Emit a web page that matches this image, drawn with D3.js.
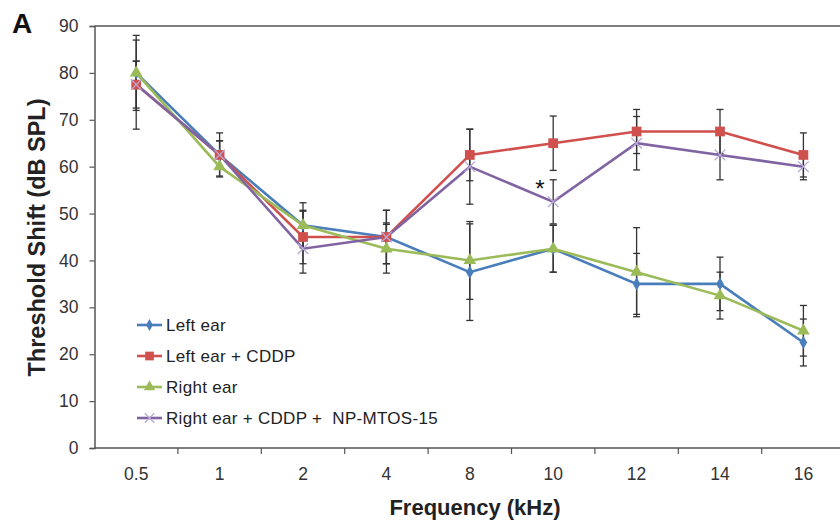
<!DOCTYPE html>
<html lang="en">
<head>
    <title>Threshold shift</title>
    <meta charset="utf-8"/>
    <script src="https://d3js.org/d3.v7.min.js"></script>
    <style>
        body { margin: 0; background: #fff; }
        svg text { font-family: Arial, "Liberation Sans", sans-serif; }
    </style>
</head>
<body>
<svg width="840" height="527"></svg>

<script type="text/javascript">

    // datos
    const freqs = ["0.5", "1", "2", "4", "8", "10", "12", "14", "16"];
    const yTicks = [0, 10, 20, 30, 40, 50, 60, 70, 80, 90];

    const leftEar = [80, 62.5, 47.5, 45, 37.5, 42.5, 35, 35, 22.5];
    const leftEarErr = [8, 3, 4.8, 5.7, 10.3, 5, 6.5, 5.7, 5];

    const leftCddp = [77.5, 62.5, 45, 45, 62.5, 65, 67.5, 67.5, 62.5];
    const leftCddpErr = [9.5, 4.7, 5.7, 5.7, 5.5, 5.8, 4.7, 4.7, 4.7];

    const rightEar = [80, 60, 47.5, 42.5, 40, 42.5, 37.5, 32.5, 25];
    const rightEarErr = [2.5, 2, 3, 5.2, 8.3, 5, 9.5, 5, 5.4];

    const rightNp = [77.5, 62.5, 42.5, 45, 60, 52.5, 65, 62.5, 60];
    const rightNpErr = [5, 3, 5.2, 3, 8, 4.7, 5.7, 5.3, 2.8];

    const seriesNames = ["Left ear", "Left ear + CDDP", "Right ear", "Right ear + CDDP +  NP-MTOS-15"];
    const seriesColors = ["#4a7ebb", "#d0504d", "#9bbb59", "#8064a2"];

    const series = [
        {name: seriesNames[0], values: leftEar, err: leftEarErr, color: seriesColors[0], marker: "diamond"},
        {name: seriesNames[1], values: leftCddp, err: leftCddpErr, color: seriesColors[1], marker: "square"},
        {name: seriesNames[2], values: rightEar, err: rightEarErr, color: seriesColors[2], marker: "triangle"},
        {name: seriesNames[3], values: rightNp, err: rightNpErr, color: seriesColors[3], marker: "x"}
    ];

    const svg = d3.select("svg");
    const plotLeft = 94.5, plotTop = 26, plotBottom = 448;

    // escalas
    let xScale = d3.scaleBand().domain(freqs).range([plotLeft, plotLeft + 9 * 83.4]);
    let yScale = d3.scaleLinear().domain([0, 90]).range([plotBottom, plotTop]);
    const cx = f => xScale(f) + xScale.bandwidth() / 2;

    // borde superior
    svg.append("line")
        .attr("x1", plotLeft).attr("x2", 840)
        .attr("y1", yScale(90)).attr("y2", yScale(90))
        .attr("stroke", "#555").attr("stroke-width", 1.5);

    // eje Y
    let yAxis = d3.axisLeft(yScale).tickValues(yTicks).tickSize(5).tickPadding(11);
    let yG = svg.append("g")
        .attr("transform", "translate(" + plotLeft + ",0)")
        .call(yAxis);
    yG.select(".domain").attr("stroke", "#555").attr("stroke-width", 1.5);
    yG.selectAll(".tick line").attr("stroke", "#555").attr("stroke-width", 1.2);
    yG.selectAll(".tick text").attr("font-size", 17.5).attr("fill", "#333");

    // eje X
    let xAxis = d3.axisBottom(xScale).tickSize(0).tickPadding(19.5);
    let xG = svg.append("g")
        .attr("transform", "translate(0," + plotBottom + ")")
        .call(xAxis);
    xG.select(".domain").remove();
    xG.append("line").attr("x1", plotLeft).attr("x2", 840)
        .attr("stroke", "#555").attr("stroke-width", 1.5);
    xG.selectAll(".tick text").attr("font-size", 17.5).attr("fill", "#333");
    // marcas entre categorías
    xG.selectAll(".sep")
        .data(freqs.slice(1))
        .join("line")
        .attr("x1", d => xScale(d)).attr("x2", d => xScale(d))
        .attr("y1", 0).attr("y2", 6)
        .attr("stroke", "#555").attr("stroke-width", 1.2);

    // barras de error
    series.forEach(s => {
        const g = svg.append("g");
        freqs.forEach((f, i) => {
            const x = cx(f), hi = yScale(s.values[i] + s.err[i]), lo = yScale(s.values[i] - s.err[i]);
            g.append("line").attr("x1", x).attr("x2", x).attr("y1", hi).attr("y2", lo)
                .attr("stroke", "#333").attr("stroke-width", 1.3);
            [hi, lo].forEach(y => g.append("line")
                .attr("x1", x - 3.5).attr("x2", x + 3.5).attr("y1", y).attr("y2", y)
                .attr("stroke", "#333").attr("stroke-width", 1.3));
        });
    });

    // líneas
    let line = d3.line()
        .x((d, i) => cx(freqs[i]))
        .y(d => yScale(d));

    series.forEach(s => {
        svg.append("path")
            .attr("d", line(s.values))
            .attr("fill", "none")
            .attr("stroke", s.color)
            .attr("stroke-width", 2.6);
    });

    function drawMarker(g, type, color, x, y, scale) {
        const k = scale || 1;
        if (type === "diamond") {
            g.append("path").attr("d", d3.symbol(d3.symbolDiamond, 50 * k)())
                .attr("transform", "translate(" + x + "," + y + ")").attr("fill", color);
        } else if (type === "square") {
            g.append("path").attr("d", d3.symbol(d3.symbolSquare, 95 * k)())
                .attr("transform", "translate(" + x + "," + y + ")").attr("fill", color);
        } else if (type === "triangle") {
            g.append("path").attr("d", d3.symbol(d3.symbolTriangle, 70 * k)())
                .attr("transform", "translate(" + x + "," + y + ")").attr("fill", color);
        } else {
            g.append("path").attr("d", d3.symbol(d3.symbolTimes, 75 * k)())
                .attr("transform", "translate(" + x + "," + y + ")")
                .attr("fill", "none").attr("stroke", "#b7a8d6").attr("stroke-width", 1.3);
        }
    }

    // marcadores
    series.forEach(s => {
        const g = svg.append("g");
        s.values.forEach((v, i) => drawMarker(g, s.marker, s.color, cx(freqs[i]), yScale(v)));
    });

    // asterisco
    svg.append("text")
        .attr("x", 540).attr("y", yScale(53.5))
        .attr("text-anchor", "middle")
        .attr("font-size", 24)
        .attr("fill", "#111")
        .text("*");

    // leyenda
    const leg = svg.append("g").attr("transform", "translate(137,325)");
    series.forEach((s, i) => {
        const row = leg.append("g").attr("transform", "translate(0," + (i * 31) + ")");
        row.append("line").attr("x1", 0).attr("x2", 25).attr("stroke", s.color).attr("stroke-width", 2.6);
        drawMarker(row, s.marker, s.color, 12.5, 0, 0.8);
        row.append("text")
            .attr("x", 29).attr("y", 0).attr("dy", "0.35em")
            .attr("font-size", 17).attr("fill", "#222")
            .attr("letter-spacing", 0.3)
            .style("white-space", "pre")
            .text(s.name);
    });

    // títulos
    svg.append("text")
        .attr("transform", "translate(45,237.5) rotate(-90)")
        .attr("text-anchor", "middle")
        .attr("font-size", 23.5).attr("font-weight", "bold").attr("fill", "#222")
        .text("Threshold Shift (dB SPL)");

    svg.append("text")
        .attr("x", 475).attr("y", 515)
        .attr("text-anchor", "middle")
        .attr("font-size", 22).attr("font-weight", "bold").attr("fill", "#222")
        .text("Frequency (kHz)");

    svg.append("text")
        .attr("x", 12).attr("y", 33)
        .attr("font-size", 28).attr("font-weight", "bold").attr("fill", "#111")
        .text("A");

</script>
</body>
</html>
